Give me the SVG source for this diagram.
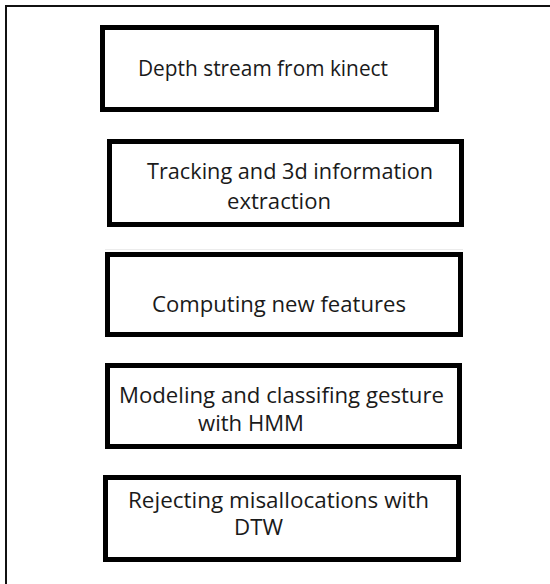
<svg xmlns="http://www.w3.org/2000/svg" width="550" height="584" viewBox="0 0 550 584">
  <style>
    .frame { fill: none; stroke: #111; stroke-width: 2; }
    .box { fill: #fff; stroke: #000; stroke-width: 5; }
    .label { font-family: "Open Sans", "Liberation Sans", Arial, sans-serif; font-size: 21px; fill: #1a1a1a; }
  </style>
  <rect width="550" height="584" fill="#fff"/>
  <!-- outer page frame, running off the right and bottom edges -->
  <rect class="frame" x="6" y="6" width="560" height="600"/>
  <!-- faint rule under the second step -->
  <line x1="105" y1="249.5" x2="463" y2="249.5" stroke="#ececec" stroke-width="1"/>
  <g id="connectors"></g>
  <g id="step-depth-stream">
    <rect class="box" x="102.5" y="27.5" width="334" height="82"/>
    <text class="label" x="138" y="76" textLength="250" lengthAdjust="spacingAndGlyphs">Depth stream from kinect</text>
  </g>
  <g id="step-tracking">
    <rect class="box" x="109.5" y="141.5" width="352" height="83"/>
    <text class="label" x="147" y="179" textLength="286" lengthAdjust="spacingAndGlyphs">Tracking and 3d information</text>
    <text class="label" x="227" y="209" textLength="104" lengthAdjust="spacingAndGlyphs">extraction</text>
  </g>
  <g id="step-features">
    <rect class="box" x="107.5" y="254.5" width="353" height="80"/>
    <text class="label" x="152" y="312" textLength="254" lengthAdjust="spacingAndGlyphs">Computing new features</text>
  </g>
  <g id="step-hmm">
    <rect class="box" x="107.5" y="365.5" width="352" height="81"/>
    <text class="label" x="119" y="403" textLength="325" lengthAdjust="spacingAndGlyphs">Modeling and classifing gesture</text>
    <text class="label" x="198" y="431" textLength="106" lengthAdjust="spacingAndGlyphs">with HMM</text>
  </g>
  <g id="step-dtw">
    <rect class="box" x="105.5" y="477.5" width="353" height="82"/>
    <text class="label" x="128" y="508" textLength="301" lengthAdjust="spacingAndGlyphs">Rejecting misallocations with</text>
    <text class="label" x="234" y="535" textLength="49" lengthAdjust="spacingAndGlyphs">DTW</text>
  </g>
</svg>
